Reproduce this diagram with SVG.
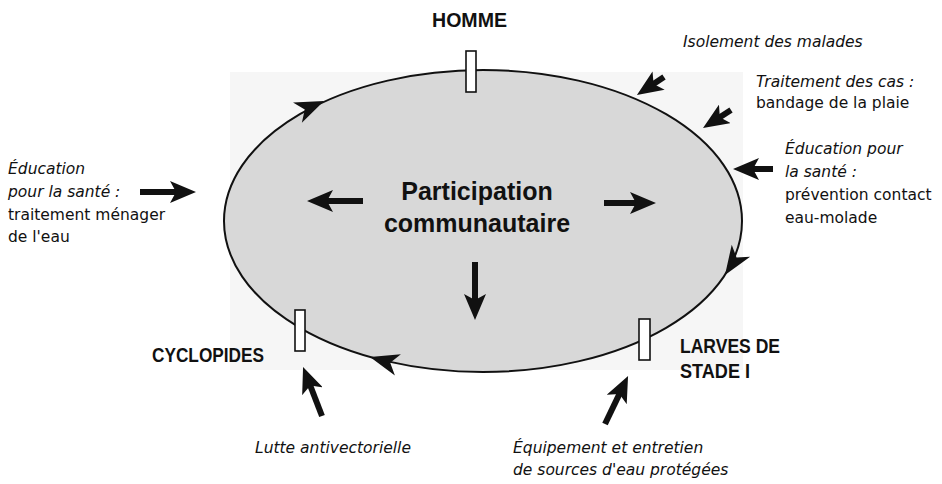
<svg xmlns="http://www.w3.org/2000/svg" width="942" height="484" viewBox="0 0 942 484">
  <style>
    .label { font-family: "Liberation Sans", Arial, sans-serif; font-weight: bold; font-size: 20px; fill: #111; }
    .title { font-family: "Liberation Sans", Arial, sans-serif; font-weight: bold; font-size: 25px; fill: #111; }
    .note { font-family: "DejaVu Sans", "Liberation Sans", sans-serif; font-size: 15.5px; fill: #111; }
    .it { font-style: italic; }
    .shaft { stroke: #111; stroke-width: 6; fill: none; marker-end: url(#head); }
    .stage { fill: #fff; stroke: #111; stroke-width: 1.6; }
    .flow { fill: #111; }
  </style>
  <defs>
    <marker id="head" viewBox="0 0 26 22" refX="12" refY="11" markerWidth="26" markerHeight="22" markerUnits="userSpaceOnUse" orient="auto">
      <path d="M0,0 L26,11 L0,22 L6,11 Z" fill="#111"/>
    </marker>
    <path id="barb" d="M0,0 L-29,-11 L-21,0 L-29,11 Z"/>
  </defs>

  <rect width="942" height="484" fill="#fff"/>
  <!-- faint tint behind the cycle -->
  <rect x="230" y="72" width="513" height="298" fill="#f6f6f6"/>

  <!-- transmission cycle -->
  <g id="cycle">
    <ellipse cx="483" cy="221" rx="259" ry="151" fill="#d8d8d8" stroke="#111" stroke-width="2"/>
    <use href="#barb" class="flow" transform="translate(324,101) rotate(-23.7)"/>
    <use href="#barb" class="flow" transform="translate(725,275) rotate(123.3)"/>
    <use href="#barb" class="flow" transform="translate(370,357) rotate(-164.2)"/>
  </g>

  <g id="homme">
    <rect class="stage" x="466" y="51" width="10" height="41"/>
    <text class="label" x="432" y="27" textLength="75" lengthAdjust="spacingAndGlyphs">HOMME</text>
  </g>

  <g id="larves">
    <rect class="stage" x="639" y="319" width="11" height="41"/>
    <text class="label" x="680" y="353" textLength="100" lengthAdjust="spacingAndGlyphs">LARVES DE</text>
    <text class="label" x="680" y="378" textLength="70" lengthAdjust="spacingAndGlyphs">STADE I</text>
  </g>

  <g id="cyclopides">
    <rect class="stage" x="295" y="310" width="10" height="41"/>
    <text class="label" x="152" y="362" textLength="112" lengthAdjust="spacingAndGlyphs">CYCLOPIDES</text>
  </g>

  <g id="participation">
    <text class="title" x="477" y="200" text-anchor="middle">Participation</text>
    <text class="title" x="477" y="232" text-anchor="middle">communautaire</text>
  </g>

  <!-- interventions -->
  <g id="isolement">
    <text class="note it" x="683" y="47">Isolement des malades</text>
  </g>
  <g id="traitement">
    <text class="note it" x="756" y="87">Traitement des cas :</text>
    <text class="note" x="756" y="108">bandage de la plaie</text>
  </g>
  <g id="education-contact">
    <text class="note it" x="785" y="154">Éducation pour</text>
    <text class="note it" x="785" y="177">la santé :</text>
    <text class="note" x="785" y="200">prévention contact</text>
    <text class="note" x="785" y="223">eau-molade</text>
  </g>
  <g id="education-eau">
    <text class="note it" x="8" y="174">Éducation</text>
    <text class="note it" x="8" y="197">pour la santé :</text>
    <text class="note" x="8" y="220">traitement ménager</text>
    <text class="note" x="8" y="242">de l'eau</text>
  </g>
  <g id="lutte">
    <text class="note it" x="255" y="453">Lutte antivectorielle</text>
  </g>
  <g id="equipement">
    <text class="note it" x="513" y="453">Équipement et entretien</text>
    <text class="note it" x="513" y="475">de sources d'eau protégées</text>
  </g>

  <g id="connectors">
    <line class="shaft" x1="140" y1="192" x2="182" y2="192"/>
    <line class="shaft" x1="363" y1="201" x2="321" y2="201"/>
    <line class="shaft" x1="604" y1="203" x2="642" y2="203"/>
    <line class="shaft" x1="475" y1="262" x2="475" y2="306"/>
    <line class="shaft" x1="664" y1="77" x2="648.6" y2="87.2"/>
    <line class="shaft" x1="731" y1="110" x2="714.8" y2="120.4"/>
    <line class="shaft" x1="773" y1="169" x2="747" y2="169"/>
    <line class="shaft" x1="322" y1="416" x2="308.1" y2="380"/>
    <line class="shaft" x1="605" y1="424" x2="622" y2="388.6"/>
  </g>
</svg>
